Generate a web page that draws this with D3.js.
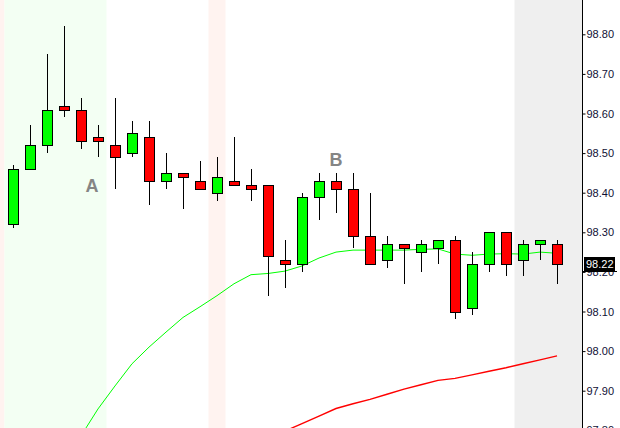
<!DOCTYPE html>
<html><head><meta charset="utf-8">
<script src="https://cdn.jsdelivr.net/npm/d3@7/dist/d3.min.js"></script>
<style>html,body{margin:0;padding:0;background:#fff;overflow:hidden}svg{display:block}</style>
</head><body>
<script>
// ---- data ----
const bars   = d3.range(33); // bar index 0..32
const opens  = [98.32,98.46,98.52,98.62,98.61,98.54,98.52,98.50,98.54,98.43,98.45,98.43,98.40,98.43,98.42,98.42,98.23,98.22,98.39,98.43,98.41,98.29,98.23,98.27,98.25,98.26,98.28,98.11,98.22,98.30,98.23,98.27,98.27];
const highs  = [98.47,98.57,98.75,98.82,98.64,98.57,98.64,98.58,98.58,98.50,98.45,98.48,98.49,98.54,98.46,98.42,98.28,98.40,98.45,98.45,98.45,98.40,98.29,98.27,98.28,98.28,98.29,98.25,98.30,98.30,98.28,98.28,98.28];
const lows   = [98.31,98.46,98.50,98.59,98.51,98.49,98.41,98.49,98.37,98.41,98.36,98.41,98.38,98.42,98.38,98.14,98.16,98.20,98.33,98.35,98.26,98.22,98.21,98.17,98.20,98.22,98.08,98.09,98.20,98.19,98.19,98.23,98.17];
const closes = [98.46,98.52,98.61,98.61,98.53,98.53,98.49,98.55,98.43,98.45,98.44,98.41,98.44,98.42,98.41,98.24,98.22,98.39,98.43,98.41,98.29,98.22,98.27,98.26,98.27,98.28,98.10,98.22,98.30,98.22,98.27,98.28,98.22];
const maFast = [null,null,null,null,97.786,97.854,97.912,97.968,98.010,98.048,98.085,98.112,98.140,98.170,98.193,98.196,98.202,98.215,98.235,98.250,98.255,98.255,98.255,98.255,98.257,98.258,98.245,98.242,98.245,98.246,98.245,98.250,98.247];
const maSlow = [null,null,null,null,null,null,null,null,null,null,null,null,null,null,null,null,97.798,97.817,97.836,97.855,97.867,97.878,97.891,97.904,97.915,97.926,97.931,97.940,97.949,97.958,97.968,97.978,97.988];
const yTicks = [97.80,97.90,98.00,98.10,98.20,98.30,98.40,98.50,98.60,98.70,98.80];
const lastPrice = 98.22;
const annotText  = ["A","B"];
const annotBar   = [4.65,19.0];
const annotPrice = [98.402,98.468];
// session shading: [startBar, endBar, kind]
const bandStart = [-1.5,-0.5,11.5,29.5];
const bandEnd   = [-0.5, 5.5,12.5,null];
const bandKind  = ["break","session","break","future"];

// ---- drawing ----
const W=620,H=428, plotRight=582;
const bandColor = {break:"#fff3f0", session:"#f3fff3", future:"#efefef"};
const svg = d3.select("body").append("svg").attr("width",W).attr("height",H);
const x = d3.scaleLinear().domain([0,32]).range([13,557]);
const y = d3.scaleLinear().domain([97.8,98.8]).range([430.3,34.3]);

const plot = svg.append("g");
plot.append("defs").append("clipPath").attr("id","pc").append("rect")
  .attr("x",0).attr("y",0).attr("width",plotRight).attr("height",H);

plot.selectAll("rect.band").data(bandStart.map((s,i)=>({s,e:bandEnd[i],k:bandKind[i]})))
  .enter().append("rect").attr("class","band")
  .attr("x",d=>Math.max(0,x(d.s)))
  .attr("y",0)
  .attr("width",d=>(d.e===null?plotRight:x(d.e))-Math.max(0,x(d.s)))
  .attr("height",H)
  .attr("fill",d=>bandColor[d.k]);

const g = plot.append("g").attr("clip-path","url(#pc)");

// moving averages
const lineFast = d3.line().defined(d=>d!==null).x((d,i)=>x(i)).y(d=>y(d));
g.append("path").datum(maFast).attr("d",lineFast).attr("fill","none").attr("stroke","#00ff00").attr("stroke-width",1);
g.append("path").datum(maSlow).attr("d",lineFast).attr("fill","none").attr("stroke","#ff0000").attr("stroke-width",1.4);

// candles
const cd = bars.map(i=>({i,o:opens[i],h:highs[i],l:lows[i],c:closes[i]}));
const cg = g.selectAll("g.c").data(cd).enter().append("g");
cg.append("line")
  .attr("x1",d=>Math.round(x(d.i))+0.5).attr("x2",d=>Math.round(x(d.i))+0.5)
  .attr("y1",d=>Math.round(y(d.h))).attr("y2",d=>Math.round(y(d.l)))
  .attr("stroke","#000").attr("stroke-width",1);
cg.append("rect")
  .attr("x",d=>Math.round(x(d.i))-4.5)
  .attr("y",d=>Math.round(y(Math.max(d.o,d.c)))+0.5)
  .attr("width",10)
  .attr("height",d=>Math.max(3,Math.round(y(Math.min(d.o,d.c)))-Math.round(y(Math.max(d.o,d.c)))))
  .attr("fill",d=>d.c>=d.o?"#00ff00":"#ff0000")
  .attr("stroke","#000").attr("stroke-width",1);

// annotations
g.selectAll("text.ann").data(annotText).enter().append("text")
  .attr("x",(d,i)=>x(annotBar[i])).attr("y",(d,i)=>y(annotPrice[i]))
  .attr("text-anchor","middle")
  .attr("font-family","Liberation Sans, Arial, sans-serif").attr("font-weight","bold")
  .attr("font-size",18).attr("fill","#858585")
  .text(d=>d);

// axis
const ax = svg.append("g");
ax.append("rect").attr("x",plotRight).attr("y",0).attr("width",W-plotRight).attr("height",H).attr("fill","#fff");
ax.append("line").attr("x1",plotRight+0.5).attr("x2",plotRight+0.5).attr("y1",0).attr("y2",H).attr("stroke","#000");
const yAxis = d3.axisRight(y).tickValues(yTicks).tickSize(3).tickPadding(1).tickFormat(d3.format(".2f"));
const ya = ax.append("g").attr("transform",`translate(${plotRight+0.5},0)`).call(yAxis);
ya.select(".domain").remove();
ya.selectAll(".tick line").attr("stroke","#000");
ya.selectAll(".tick text").attr("font-family","Liberation Sans, Arial, sans-serif").attr("font-size",11).attr("fill","#101035");

// last price box
const ly = y(lastPrice);
ax.append("rect").attr("x",584).attr("y",Math.round(ly)-7).attr("width",31).attr("height",14).attr("fill","#000");
ax.append("line").attr("x1",plotRight).attr("x2",617).attr("y1",Math.round(ly)+7.5).attr("y2",Math.round(ly)+7.5).attr("stroke","#000");
ax.append("text").attr("x",586).attr("y",ly).attr("dy","0.35em")
  .attr("font-family","Liberation Sans, Arial, sans-serif").attr("font-size",11).attr("fill","#fff")
  .text(d3.format(".2f")(lastPrice));
</script>
</body></html>
